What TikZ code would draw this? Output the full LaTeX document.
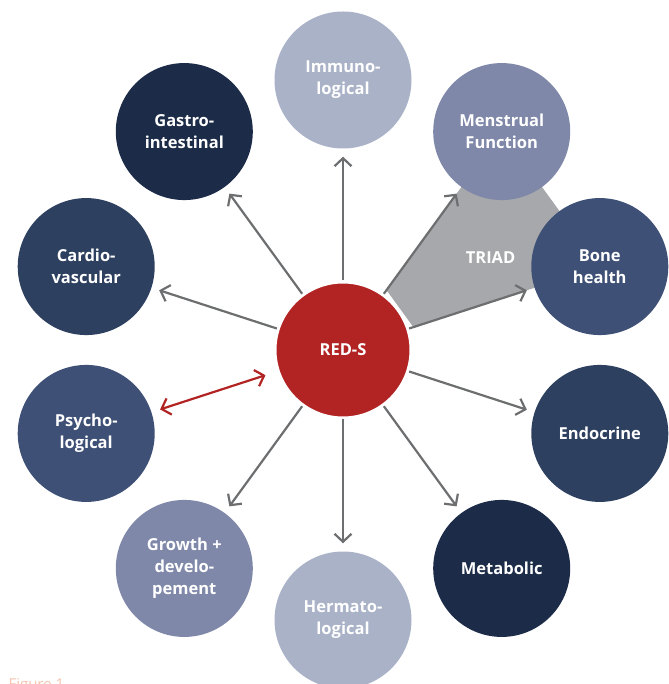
\documentclass[tikz,border=0pt]{standalone}
\usepackage{fontspec}
\setmainfont{Open Sans}
\usetikzlibrary{arrows.meta}
\definecolor{pale}{HTML}{A9B2C7}
\definecolor{mauve}{HTML}{7F88A9}
\definecolor{slate}{HTML}{3E5075}
\definecolor{navy}{HTML}{2E405F}
\definecolor{ink}{HTML}{1C2B47}
\definecolor{reds}{HTML}{B22424}
\definecolor{triad}{HTML}{A6A8AB}
\definecolor{arrowgray}{HTML}{6D6E70}
\definecolor{caption}{HTML}{F6C3AE}
\begin{document}
\begin{tikzpicture}[x=1pt,y=1pt,
    organ/.style={circle,minimum size=137pt,inner sep=0pt,text=white,align=center,
      font=\bfseries\fontsize{16.5}{22}\selectfont},
    hub/.style={organ,fill=reds,draw=white,line width=3pt,minimum size=136pt},
    link/.style={-{Straight Barb[length=8pt,width=17pt,line width=2.2pt]},arrowgray,line width=2.2pt,shorten >=8pt}]
      \useasboundingbox (-343,-334) rectangle (325,350);
      % triad wedge behind the circles
      \fill[triad] (54:74) -- (54:270) -- (18:270) -- (18:74) -- cycle;
      \node[font=\bfseries\fontsize{16.5}{22}\selectfont,text=white] (t) at (32:174) {TRIAD};
      \draw
        (18:270) node[organ,fill=slate] (0){Bone\\health}
        (54:270) node[organ,fill=mauve] (1){Menstrual\\Function}
        (90:270) node[organ,fill=pale] (2){Immuno-\\logical}
        (126:270) node[organ,fill=ink] (3){Gastro-\\intestinal}
        (162:270) node[organ,fill=navy] (4){Cardio-\\vascular}
        (198:270) node[organ,fill=slate] (5){Psycho-\\logical}
        (234:270) node[organ,fill=mauve] (6){Growth +\\develo-\\pement}
        (270:270) node[organ,fill=pale] (7){Hermato-\\logical}
        (306:270) node[organ,fill=ink] (8){Metabolic}
        (342:270) node[organ,fill=navy] (9){Endocrine};
      \node[hub] (r) at (0,0) {RED-S};
      \begin{scope}[link]
        \draw (r) to (0);
        \draw (r) to (1);
        \draw (r) to (2);
        \draw (r) to (3);
        \draw (r) to (4);
        \draw (r) to (6);
        \draw (r) to (7);
        \draw (r) to (8);
        \draw (r) to (9);
      \end{scope}
      \draw[{Straight Barb[length=8pt,width=17pt,line width=2.2pt]}-{Straight Barb[length=8pt,width=17pt,line width=2.2pt]},
        reds,line width=2.2pt,shorten <=12pt,shorten >=9pt] (r) to (5);
      \node[anchor=north west,text=caption,font=\fontsize{15}{18}\selectfont] (fig) at (-338,-325) {Figure 1};
    \end{tikzpicture}
\end{document}
